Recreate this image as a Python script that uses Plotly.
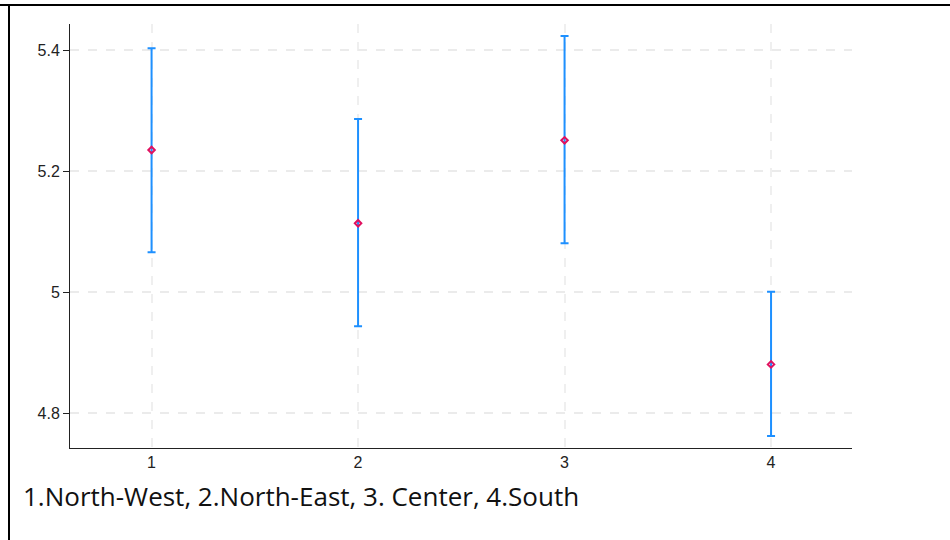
import plotly.graph_objects as go

# Regional means with 95% confidence bounds
regions = [1, 2, 3, 4]
means = [5.235, 5.114, 5.251, 4.881]
lower = [5.066, 4.944, 5.081, 4.763]
upper = [5.403, 5.286, 5.423, 5.001]
y_ticks = [4.8, 5.0, 5.2, 5.4]
y_tick_text = ["4.8", "5", "5.2", "5.4"]
caption = "1.North-West, 2.North-East, 3. Center, 4.South"

err_plus = [u - m for u, m in zip(upper, means)]
err_minus = [m - l for m, l in zip(means, lower)]

fig = go.Figure()
fig.add_trace(go.Scatter(
    x=regions, y=means, mode="markers",
    marker=dict(symbol="diamond-open", size=5, color="#e0115f",
                line=dict(width=2, color="#e0115f")),
    error_y=dict(type="data", symmetric=False, array=err_plus,
                 arrayminus=err_minus, color="#1e90ff", thickness=2, width=4),
    showlegend=False,
))

W, H = 950, 540
ml, mr, mt, mb = 70, 98, 24, 92
pw, ph = W - ml - mr, H - mt - mb

fig.update_layout(
    width=W, height=H,
    margin=dict(l=ml, r=mr, t=mt, b=mb, pad=0),
    paper_bgcolor="white", plot_bgcolor="white",
    font=dict(family="Liberation Sans, Arial, sans-serif", size=16, color="#222"),
    xaxis=dict(range=[0.605, 4.392], tickvals=regions, ticks="",
               showline=True, linecolor="#222", linewidth=1,
               showgrid=True, gridcolor="#efefef", gridwidth=1.5, griddash="dash",
               zeroline=False, tickfont=dict(size=16)),
    yaxis=dict(range=[4.743, 5.443], tickvals=y_ticks, ticktext=y_tick_text,
               ticks="outside", ticklen=6, tickcolor="#222", tickwidth=1,
               showline=True, linecolor="#222", linewidth=1,
               showgrid=True, gridcolor="#ebebeb", gridwidth=1.5, griddash="dash",
               zeroline=False, tickfont=dict(size=16)),
    annotations=[dict(
        text=caption, xref="paper", yref="paper",
        x=(21 - ml) / pw, y=(mt + ph - 496) / ph,
        xanchor="left", yanchor="middle", showarrow=False,
        font=dict(family="Open Sans, sans-serif", size=26, color="#111"),
    )],
    shapes=[
        # page frame: top and left rules
        dict(type="line", xref="paper", yref="paper",
             x0=(0 - ml) / pw, x1=(W - ml) / pw,
             y0=1 + (mt - 5) / ph, y1=1 + (mt - 5) / ph,
             line=dict(color="black", width=2)),
        dict(type="line", xref="paper", yref="paper",
             x0=(9 - ml) / pw, x1=(9 - ml) / pw,
             y0=1 + (mt - 5) / ph, y1=-(mb) / ph,
             line=dict(color="black", width=2)),
    ],
)

fig.write_html("out.html")
